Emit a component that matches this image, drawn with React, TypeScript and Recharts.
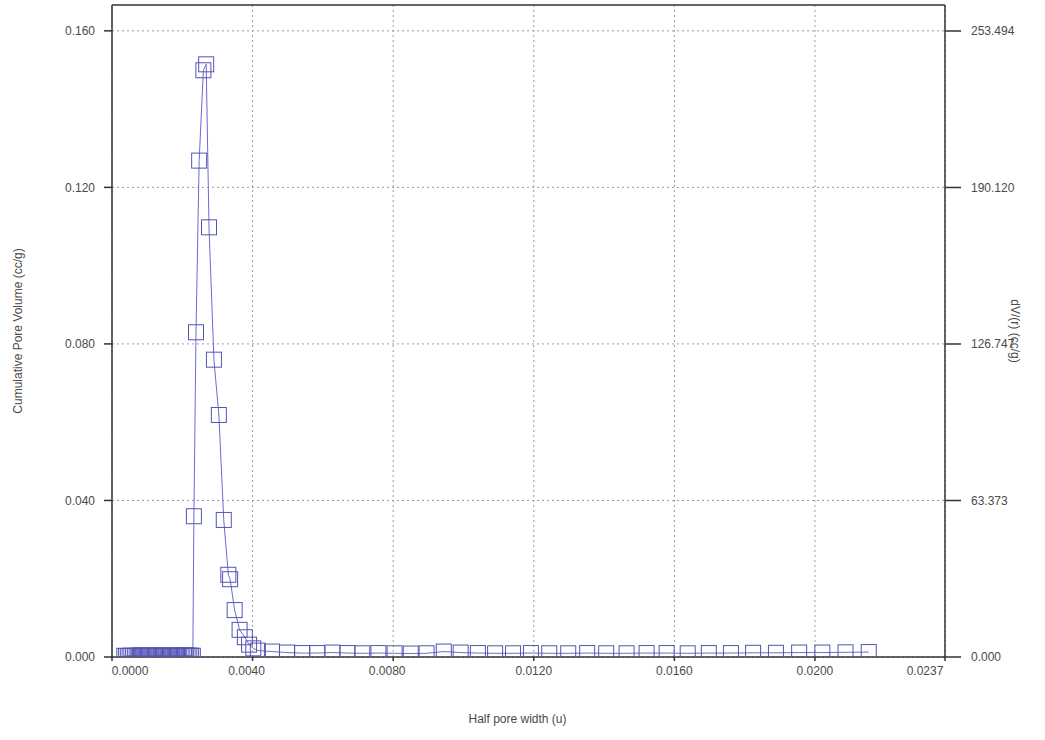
import React from 'react';
import { ComposedChart, Line, XAxis, YAxis, CartesianGrid, ReferenceLine } from 'recharts';

// Half pore width (u)
const halfPoreWidth = [
  0.00035, 0.0004, 0.00045, 0.0005, 0.00055, 0.0006, 0.00065, 0.0007, 0.00075, 0.0008,
  0.00085, 0.0009, 0.00095, 0.001, 0.00105, 0.0011, 0.00115, 0.0012, 0.00125, 0.0013,
  0.00135, 0.0014, 0.00145, 0.0015, 0.00155, 0.0016, 0.00165, 0.0017, 0.00175, 0.0018,
  0.00185, 0.0019, 0.00195, 0.002, 0.00205, 0.0021, 0.00215, 0.0022, 0.00225,
  0.0023, 0.00233, 0.00239, 0.00248, 0.0026, 0.00268,
  0.00276, 0.0029, 0.00304, 0.00318, 0.00331, 0.00336, 0.00349, 0.00363, 0.00378, 0.0039, 0.00402,
  0.00415, 0.00455, 0.00498, 0.00541, 0.00584, 0.00627, 0.0067, 0.00712, 0.00758, 0.00804,
  0.0085, 0.00895, 0.00944, 0.00992, 0.01041, 0.0109, 0.01141, 0.01192, 0.01244, 0.01298,
  0.01352, 0.01406, 0.01464, 0.01521, 0.01578, 0.01638, 0.01698, 0.01761, 0.01824, 0.01889,
  0.01955, 0.02021, 0.02087, 0.02153,
];

// dV/(r) (cc/g)
const dVr = [
  0.5, 0.4, 0.4, 0.5, 0.5, 0.4, 0.4, 0.5, 0.5, 0.6,
  0.6, 0.5, 0.5, 0.4, 0.4, 0.5, 0.5, 0.5, 0.5, 0.6,
  0.6, 0.5, 0.5, 0.4, 0.4, 0.5, 0.5, 0.5, 0.5, 0.6,
  0.6, 0.5, 0.5, 0.5, 0.5, 0.6, 0.6, 0.5, 0.5,
  0.5, 57, 131.5, 201, 237.6, 240,
  174, 120.4, 98, 55.5, 33.3, 31.5, 19, 11, 8, 5, 3.5,
  2.6, 2.2, 1.8, 1.6, 1.6, 1.8, 1.6, 1.5, 1.6, 1.5,
  1.4, 1.5, 2.2, 1.8, 1.6, 1.5, 1.5, 1.6, 1.5, 1.5,
  1.6, 1.5, 1.5, 1.6, 1.6, 1.5, 1.6, 1.6, 1.7, 1.7,
  1.8, 1.8, 1.9, 2.0,
];

const xTicks = [0, 0.004, 0.008, 0.012, 0.016, 0.02, 0.0237];
const leftTicks = [0, 0.04, 0.08, 0.12, 0.16];
const rightTicks = [0, 63.373, 126.747, 190.12, 253.494];

const LEFT_MAX = 0.1666;
const RIGHT_MAX = 264.02;

const data = halfPoreWidth.map((x, i) => ({ x, y: dVr[i] }));

const MARK = '#5454b4';
const LINE = '#6b6bd4';
const AXIS = '#333333';
const TEXT = '#4a4a4a';
const FONT = 'Liberation Sans, Arial, sans-serif';

const SquareDot = (props: any) => {
  const { cx, cy, index } = props;
  if (cx == null || cy == null) return <g key={`e${index}`} />;
  return (
    <rect
      key={`d${index}`}
      x={cx - 7.5}
      y={cy - 7.5}
      width={15}
      height={15}
      fill="none"
      stroke={MARK}
      strokeWidth={1}
    />
  );
};

const XTick = (props: any) => {
  const { x, y, payload, index } = props;
  let dx = 0;
  if (index === 0) dx = 18;
  else if (payload.value === 0.0237) dx = -20;
  else if (payload.value === 0.004 || payload.value === 0.008) dx = -6;
  return (
    <text x={x + dx} y={y} dy={10} textAnchor="middle" fill={TEXT} fontSize={12} fontFamily={FONT}>
      {Number(payload.value).toFixed(4)}
    </text>
  );
};

export default function App() {
  return (
    <div style={{ position: 'absolute', left: 0, top: 0, width: 1045, height: 740, background: '#fff' }}>
      <ComposedChart
        width={1045}
        height={740}
        data={data}
        margin={{ top: 5, right: 0, left: 0, bottom: 0 }}
      >
        <CartesianGrid
          yAxisId="left"
          stroke="#9a9a9a"
          strokeDasharray="2 3"
          horizontalValues={leftTicks}
          verticalValues={xTicks}
        />
        <XAxis
          dataKey="x"
          type="number"
          domain={[0, 0.0237]}
          ticks={xTicks}
          allowDataOverflow
          height={83}
          stroke={AXIS}
          strokeWidth={1.5}
          tickSize={4}
          tickMargin={4}
          tick={<XTick />}
          label={{
            value: 'Half pore width (u)',
            position: 'insideBottom',
            offset: 17,
            dx: -11,
            style: { fill: TEXT, fontSize: 12, fontFamily: FONT },
          }}
        />
        <YAxis
          yAxisId="left"
          orientation="left"
          type="number"
          domain={[0, LEFT_MAX]}
          ticks={leftTicks}
          allowDataOverflow
          width={112}
          stroke={AXIS}
          strokeWidth={1.5}
          tickSize={8}
          tickMargin={9}
          tickFormatter={(v: number) => v.toFixed(3)}
          tick={{ fill: TEXT, fontSize: 12, fontFamily: FONT }}
          label={{
            value: 'Cumulative Pore Volume (cc/g)',
            angle: -90,
            position: 'insideLeft',
            offset: 18,
            style: { textAnchor: 'middle', fill: TEXT, fontSize: 12, fontFamily: FONT },
          }}
        />
        <YAxis
          yAxisId="right"
          orientation="right"
          type="number"
          domain={[0, RIGHT_MAX]}
          ticks={rightTicks}
          allowDataOverflow
          width={100}
          stroke={AXIS}
          strokeWidth={1.5}
          tickSize={16}
          tickMargin={10}
          tickFormatter={(v: number) => v.toFixed(3)}
          tick={{ fill: TEXT, fontSize: 12, fontFamily: FONT }}
          label={{
            value: 'dV/(r) (cc/g)',
            angle: 90,
            position: 'insideRight',
            offset: 30,
            style: { textAnchor: 'middle', fill: TEXT, fontSize: 12, fontFamily: FONT },
          }}
        />
        <ReferenceLine yAxisId="left" y={LEFT_MAX} stroke={AXIS} strokeWidth={1.5} />
        <Line
          yAxisId="right"
          dataKey="y"
          type="linear"
          stroke={LINE}
          strokeWidth={1}
          dot={<SquareDot />}
          activeDot={false}
          isAnimationActive={false}
        />
      </ComposedChart>
    </div>
  );
}
